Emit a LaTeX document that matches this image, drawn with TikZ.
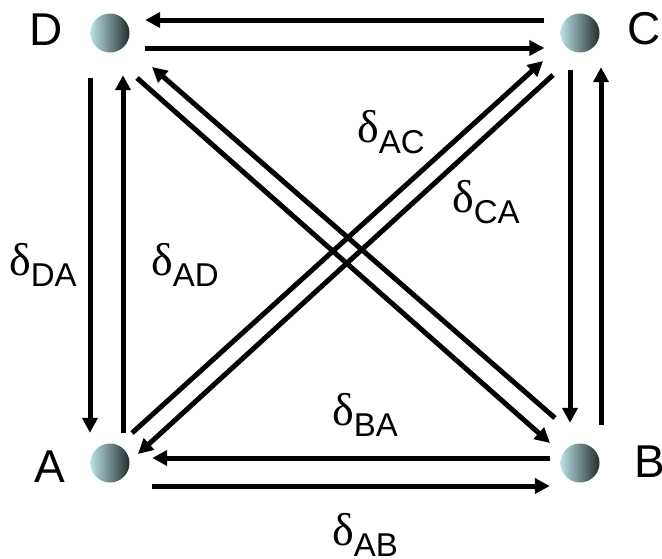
\documentclass[tikz,border=0pt]{standalone}
\usepackage{fontspec}
\setmainfont{Liberation Sans}
\newfontfamily\greekfont{Liberation Serif}
\usetikzlibrary{arrows.meta}
\definecolor{balllight}{RGB}{186,224,228}
\definecolor{ballmid}{RGB}{155,192,195}
\definecolor{balldark}{RGB}{35,45,45}
\newcommand\dlab[1]{{\greekfont\fontsize{46}{46}\selectfont δ}\raisebox{-11pt}{\fontsize{33}{33}\selectfont #1}}
\tikzset{
  ball/.style={circle,minimum size=39pt,inner sep=0pt,left color=balllight,middle color=ballmid,right color=balldark,draw=none},
  arr/.style={line width=5pt,-{Triangle[length=15pt,width=15pt]}},
  corner/.style={inner sep=0pt,anchor=base west,font=\fontsize{46}{46}\selectfont},
  dlabel/.style={inner sep=0pt,anchor=base west},
}
\begin{document}
\begin{tikzpicture}[x=1pt,y=1pt]
\useasboundingbox (0,0) rectangle (662,-558);
% balls
\node[ball] (D) at (110,-33) {};
\node[ball] (C) at (580,-33) {};
\node[ball] (A) at (110,-463) {};
\node[ball] (B) at (580,-463) {};
% corner letters
\node[corner] (lD) at (29.5,-45) {D};
\node[corner] (lC) at (627.5,-44) {C};
\node[corner] (lA) at (34,-482) {A};
\node[corner] (lB) at (634,-477) {B};
% top pair
\draw[arr,shorten <=16pt,shorten >=15.5pt] ([yshift=13pt]C.west) -- ([yshift=13pt]D.east);
\draw[arr,shorten <=15.5pt,shorten >=16pt] ([yshift=-15pt]D.east) -- ([yshift=-15pt]C.west);
% bottom pair
\draw[arr,shorten <=10pt,shorten >=22.5pt] ([yshift=5pt]B.west) -- ([yshift=5pt]A.east);
\draw[arr,shorten <=22.5pt,shorten >=10.5pt] ([yshift=-23pt]A.east) -- ([yshift=-23pt]B.west);
% left pair
\draw[arr,shorten <=25.5pt,shorten >=10.5pt] ([xshift=-20pt]D.south) -- ([xshift=-20pt]A.north);
\draw[arr,shorten <=10.5pt,shorten >=22.5pt] ([xshift=13pt]A.north) -- ([xshift=13pt]D.south);
% right pair
\draw[arr,shorten <=17.5pt,shorten >=20.5pt] ([xshift=-10pt]C.south) -- ([xshift=-10pt]B.north);
\draw[arr,shorten <=18.5pt,shorten >=14.5pt] ([xshift=21pt]B.north) -- ([xshift=21pt]C.south);
% diagonals D-B
\draw[arr] ([shift={(27pt,-45pt)}]D.center) -- ([shift={(-30pt,20pt)}]B.center);
\draw[arr] ([shift={(-25pt,45pt)}]B.center) -- ([shift={(42pt,-34pt)}]D.center);
% diagonals A-C
\draw[arr] ([shift={(22pt,30pt)}]A.center) -- ([shift={(-37pt,-28pt)}]C.center);
\draw[arr] ([shift={(-27pt,-42pt)}]C.center) -- ([shift={(28pt,9pt)}]A.center);
% labels
\node[dlabel] (dAC) at (357,-142) {\dlab{AC}};
\node[dlabel] (dCA) at (452,-212) {\dlab{CA}};
\node[dlabel] (dDA) at (9,-275) {\dlab{DA}};
\node[dlabel] (dAD) at (151,-275) {\dlab{AD}};
\node[dlabel] (dBA) at (332,-425) {\dlab{BA}};
\node[dlabel] (dAB) at (332,-545) {\dlab{AB}};
\end{tikzpicture}
\end{document}
